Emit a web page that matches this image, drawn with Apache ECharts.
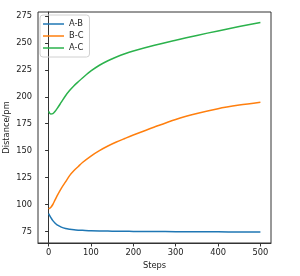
<!DOCTYPE html>
<html>
<head>
<meta charset="utf-8">
<script src="https://cdn.jsdelivr.net/npm/echarts@6/dist/echarts.min.js"></script>
<style>html,body{margin:0;padding:0;background:#fff}#c{width:300px;height:276px}</style>
</head>
<body>
<div id="c"></div>
<script>
const steps = [0, 5, 10, 15, 20, 30, 40, 50, 60, 70, 80, 100, 120, 140, 160, 180, 200, 250, 300, 350, 400, 450, 500];
const abValues = [91.5, 88, 85, 82.8, 81, 79, 77.7, 77, 76.5, 76.2, 76, 75.6, 75.4, 75.3, 75.2, 75.1, 75, 74.9, 74.8, 74.7, 74.6, 74.55, 74.5];
const bcValues = [96, 97.3, 100, 104, 108, 115, 121, 127, 131.5, 135.3, 139, 145, 150, 154.3, 158, 161.3, 164.5, 172, 179, 184.5, 189, 192.3, 195];
const acValues = [186.5, 184, 184.3, 186.3, 189, 195, 201, 206, 210.3, 214, 217.5, 224, 229.3, 233.5, 237, 240, 242.5, 247.8, 252.5, 257, 261.2, 265.2, 269];
const xTicks = [0, 100, 200, 300, 400, 500];
const yTicks = [75, 100, 125, 150, 175, 200, 225, 250, 275];
const seriesNames = ['A-B', 'B-C', 'A-C'];
const colors = ['#1f77b4', '#ff7f0e', '#2bb24c'];

const pair = v => steps.map((s, i) => [s, v[i]]);
const font = 'DejaVu Sans';
const axisColor = '#333';
const txt = {fontFamily: font, fontSize: 8.3, color: '#222'};
const chart = echarts.init(document.getElementById('c'), null, {renderer: 'canvas'});
const mk = (i, vals) => ({
  name: seriesNames[i], type: 'line', data: pair(vals), smooth: 0.3, symbol: 'none', showSymbol: false,
  lineStyle: {color: colors[i], width: 1.5}, itemStyle: {color: colors[i]}
});
chart.setOption({
  animation: false,
  grid: {left: 38, right: 29, top: 12, bottom: 33, containLabel: false, outerBoundsMode: 'none',
         show: true, borderColor: axisColor, borderWidth: 1, backgroundColor: 'transparent'},
  legend: {
    left: 40, top: 15, orient: 'vertical', itemWidth: 21, itemHeight: 1.5, itemGap: 4,
    borderColor: '#d0d0d0', borderWidth: 1, borderRadius: 3, padding: [5, 6, 5, 3],
    textStyle: txt,
    data: seriesNames.map((n, i) => ({name: n, icon: 'rect', itemStyle: {color: colors[i]}}))
  },
  xAxis: {
    type: 'value', min: -25, max: 525,
    name: 'Steps', nameLocation: 'middle', nameGap: 19, nameMoveOverlap: false, nameTextStyle: txt,
    axisLine: {show: true, lineStyle: {color: axisColor}},
    axisTick: {show: true, length: 3.5, lineStyle: {color: axisColor}, customValues: xTicks},
    axisLabel: Object.assign({margin: 6, customValues: xTicks}, txt),
    splitLine: {show: false}
  },
  yAxis: {
    type: 'value', min: 64.25, max: 278.75,
    name: 'Distance/pm', nameLocation: 'middle', nameGap: 27, nameMoveOverlap: false, nameTextStyle: txt,
    axisLine: {show: true, lineStyle: {color: axisColor}},
    axisTick: {show: true, length: 3.5, lineStyle: {color: axisColor}, customValues: yTicks},
    axisLabel: Object.assign({margin: 6, customValues: yTicks}, txt),
    splitLine: {show: false}
  },
  series: [mk(0, abValues), mk(1, bcValues), mk(2, acValues)]
});
</script>
</body>
</html>
